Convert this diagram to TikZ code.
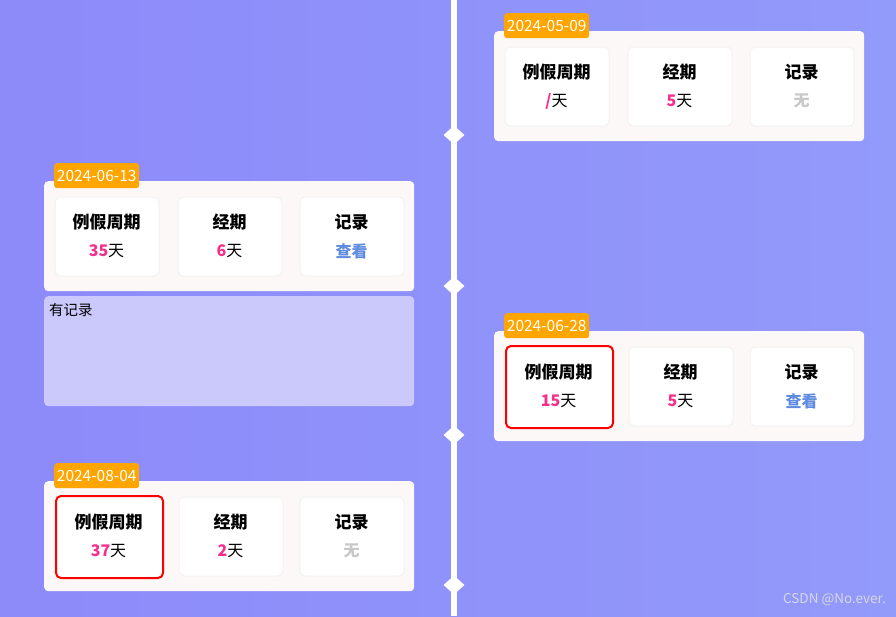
\documentclass[tikz,border=0pt]{standalone}
\usepackage{fontspec}
\setmainfont{Noto Sans CJK SC}
\usetikzlibrary{shapes.geometric}
\definecolor{bgL}{RGB}{141,138,250}
\definecolor{bgR}{RGB}{146,154,250}
\definecolor{cardbg}{RGB}{253,248,248}
\definecolor{badgeor}{RGB}{255,165,0}
\definecolor{pinknum}{RGB}{245,48,140}
\definecolor{linkblue}{RGB}{95,140,225}
\definecolor{nonegray}{RGB}{200,200,200}
\definecolor{notebg}{RGB}{203,201,252}
\definecolor{markgray}{RGB}{215,215,228}
\tikzset{
  card/.style={fill=cardbg, rounded corners=4pt, minimum width=370pt, minimum height=110pt, anchor=north west, inner sep=0pt},
  ibox/.style={fill=white, draw=black!5, line width=1pt, rounded corners=5pt, minimum width=104pt, minimum height=79pt, anchor=north west, inner sep=0pt},
  redbox/.style={fill=white, draw=red, line width=2pt, rounded corners=5pt, minimum width=107pt, minimum height=82pt, anchor=north west, inner sep=0pt},
  datebadge/.style={fill=badgeor, text=white, rounded corners=3pt, minimum width=85pt, minimum height=25pt, anchor=north west, inner sep=0pt, font=\fontsize{15.5}{15.5}\selectfont},
  ttl/.style={font=\fontsize{17}{17}\selectfont\bfseries, inner sep=0pt},
  val/.style={font=\fontsize{16}{16}\selectfont, inner sep=0pt},
  notebox/.style={fill=notebg, rounded corners=4pt, minimum width=370pt, minimum height=110pt, anchor=north west, inner sep=0pt},
  dmd/.style={diamond, fill=white, minimum width=21pt, minimum height=19pt, inner sep=0pt},
  wm/.style={text=markgray, font=\fontsize{13.5}{13.5}\selectfont, anchor=east, inner sep=0pt}
}
\newcommand{\pn}[1]{{\bfseries\color{pinknum}#1}}
\begin{document}
\begin{tikzpicture}[x=1pt,y=-1pt]
\useasboundingbox (0,0) rectangle (896,616);
\shade[left color=bgL, right color=bgR] (0,0) rectangle (896,616);
% timeline
\coordinate (ltop) at (454,0);
\coordinate (lbot) at (454,616);
\draw[white, line width=5.5pt] (ltop) -- (lbot);
\node[dmd] (d1) at (454,135) {};
\node[dmd] (d2) at (454,286) {};
\node[dmd] (d3) at (454,435) {};
\node[dmd] (d4) at (454,585) {};

% card 1 (right, 2024-05-09)
\node[card] (c1) at (494,31) {};
\node[datebadge] (b1) at (504,13) {2024-05-09};
\node[ibox] (c1a) at (504.5,46.5) {};
\node[ibox] (c1b) at (627.5,46.5) {};
\node[ibox] (c1c) at (749.5,46.5) {};
\node[ttl] (c1at) at (556.5,72) {例假周期};
\node[ttl] (c1bt) at (679.5,72) {经期};
\node[ttl] (c1ct) at (801.5,72) {记录};
\node[val] (c1av) at (556.5,101) {\pn{/}天};
\node[val] (c1bv) at (679.5,101) {\pn{5}天};
\node[val, text=nonegray] (c1cv) at (801.5,101) {\bfseries 无};

% card 2 (left, 2024-06-13)
\node[card] (c2) at (44,181) {};
\node[datebadge] (b2) at (54,163) {2024-06-13};
\node[ibox] (c2a) at (54.5,196.5) {};
\node[ibox] (c2b) at (177.5,196.5) {};
\node[ibox] (c2c) at (299.5,196.5) {};
\node[ttl] (c2at) at (106.5,222) {例假周期};
\node[ttl] (c2bt) at (229.5,222) {经期};
\node[ttl] (c2ct) at (351.5,222) {记录};
\node[val] (c2av) at (106.5,251) {\pn{35}天};
\node[val] (c2bv) at (229.5,251) {\pn{6}天};
\node[val, text=linkblue] (c2cv) at (351.5,251) {\bfseries 查看};
\node[notebox] (n2) at (44,296) {};
\node[anchor=north west, inner sep=0pt, font=\fontsize{14.5}{14.5}\selectfont] (n2t) at (49,303.5) {有记录};

% card 3 (right, 2024-06-28)
\node[card] (c3) at (494,331) {};
\node[datebadge] (b3) at (504,313) {2024-06-28};
\node[redbox] (c3a) at (505,345) {};
\node[ibox] (c3b) at (628.5,346.5) {};
\node[ibox] (c3c) at (749.5,346.5) {};
\node[ttl] (c3at) at (558.5,372) {例假周期};
\node[ttl] (c3bt) at (680.5,372) {经期};
\node[ttl] (c3ct) at (801.5,372) {记录};
\node[val] (c3av) at (558.5,401) {\pn{15}天};
\node[val] (c3bv) at (680.5,401) {\pn{5}天};
\node[val, text=linkblue] (c3cv) at (801.5,401) {\bfseries 查看};

% card 4 (left, 2024-08-04)
\node[card] (c4) at (44,481) {};
\node[datebadge] (b4) at (54,463) {2024-08-04};
\node[redbox] (c4a) at (55,495) {};
\node[ibox] (c4b) at (178.5,496.5) {};
\node[ibox] (c4c) at (299.5,496.5) {};
\node[ttl] (c4at) at (108.5,522) {例假周期};
\node[ttl] (c4bt) at (230.5,522) {经期};
\node[ttl] (c4ct) at (351.5,522) {记录};
\node[val] (c4av) at (108.5,551) {\pn{37}天};
\node[val] (c4bv) at (230.5,551) {\pn{2}天};
\node[val, text=nonegray] (c4cv) at (351.5,551) {\bfseries 无};

% watermark
\node[wm] (wmk) at (886,600) {CSDN @No.ever.};
\end{tikzpicture}
\end{document}
